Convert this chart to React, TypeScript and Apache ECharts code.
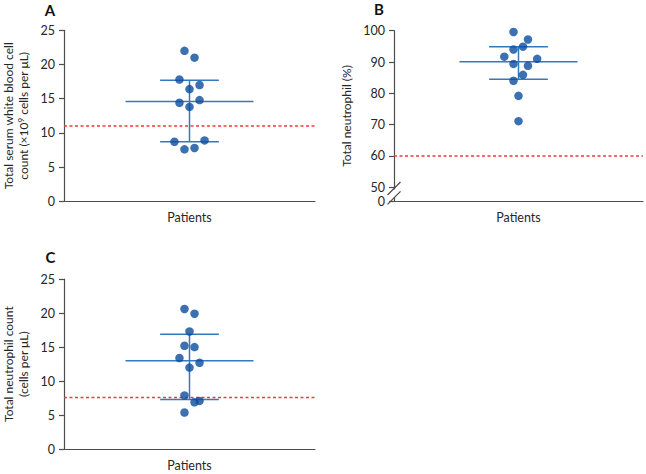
import React, { useEffect, useRef } from 'react';
import * as echarts from 'echarts';

// ---------- data ----------
const panelLetters = ['A', 'B', 'C'];
const xCategory = 'Patients';

// Panel A: total serum white blood cell count
const wbcValues = [22.0, 21.0, 17.8, 17.0, 16.4, 14.4, 14.8, 13.8, 8.7, 8.9, 7.6, 7.8];
const wbcJitter = [-2, 2, -4, 4, 0, -4, 4, 0, -6, 6, -2, 2];
const wbcMean = 14.6;
const wbcSd = [8.7, 17.7];
const wbcRef = 11;
const wbcTicks = [0, 5, 10, 15, 20, 25];

// Panel B: total neutrophil (%)
const pctValues = [99.6, 97.2, 94.0, 94.9, 91.7, 91.0, 89.4, 88.8, 85.9, 84.0, 79.2, 71.1];
const pctJitter = [-2, 3.8, -2, 1.8, -5.7, 7.5, -2, 3.8, 1.8, -2, 0, 0];
const pctMean = 90.1;
const pctSd = [84.5, 94.9];
const pctRef = 60;
const pctTicks = [0, 50, 60, 70, 80, 90, 100];
const pctBrokenZero = 45.5; // where "0" sits below the axis break

// Panel C: total neutrophil count
const cntValues = [20.6, 19.9, 17.3, 15.2, 15.0, 13.4, 12.7, 12.0, 7.9, 6.9, 7.1, 5.4];
const cntJitter = [-2, 2, 0, -2, 2, -4, 4, 0, -2, 2, 4, -2];
const cntMean = 13.0;
const cntSd = [7.3, 16.9];
const cntRef = 7.6;
const cntTicks = [0, 5, 10, 15, 20, 25];

// ---------- styles ----------
const FONT = 'Lato, "Open Sans", sans-serif';
const DOT = '#0a4c9e';
const BAR = '#3478bd';
const RED = '#f23a3a';
const AXIS = '#4d4d4d';
const TEXT = '#262626';

export default function App() {
  const ref = useRef<HTMLDivElement>(null);

  useEffect(() => {
    if (!ref.current) return;
    const chart = echarts.init(ref.current, undefined, { renderer: 'svg' });

    const grids = [
      { left: 64, top: 30.3, width: 251, height: 171 },
      { left: 394, top: 30.7, width: 249, height: 170.6 },
      { left: 64, top: 279, width: 251, height: 170.3 },
    ];

    const panels = [
      { values: wbcValues, jitter: wbcJitter, mean: wbcMean, sd: wbcSd, ref: wbcRef, mh: 25.5, ch: 11.7 },
      { values: pctValues, jitter: pctJitter, mean: pctMean, sd: pctSd, ref: pctRef, mh: 23.7, ch: 11.8 },
      { values: cntValues, jitter: cntJitter, mean: cntMean, sd: cntSd, ref: cntRef, mh: 25.5, ch: 11.7 },
    ];

    const xAxes = grids.map((_, i) => ({
      type: 'value',
      gridIndex: i,
      min: -50,
      max: 50,
      axisLabel: { show: false },
      axisTick: { show: false },
      splitLine: { show: false },
      axisLine: { show: true, onZero: false, lineStyle: { color: AXIS, width: 1.2 } },
      name: xCategory,
      nameLocation: 'middle',
      nameGap: 10,
      nameTextStyle: { fontFamily: FONT, fontSize: 12.5, color: TEXT },
    }));

    const baseY = {
      type: 'value',
      splitLine: { show: false },
      axisLine: { show: true, onZero: false, lineStyle: { color: AXIS, width: 1.2 } },
      axisTick: { show: true, length: 5, lineStyle: { color: AXIS, width: 1.2 } },
      axisLabel: { margin: 9, fontFamily: FONT, fontSize: 12.5, color: TEXT },
      nameLocation: 'middle',
      nameTextStyle: {
        fontFamily: FONT,
        fontSize: 12,
        color: TEXT,
        lineHeight: 15,
        rich: {
          sup: { fontFamily: FONT, fontSize: 8, color: TEXT, padding: [0, 0, 6, 0] },
        },
      },
    };

    const yAxes = [
      {
        ...baseY,
        gridIndex: 0,
        min: wbcTicks[0],
        max: wbcTicks[wbcTicks.length - 1],
        interval: 5,
        name: 'Total serum white blood cell\ncount (×10{sup|9} cells per μL)',
        nameGap: 33,
      },
      {
        ...baseY,
        gridIndex: 1,
        min: pctBrokenZero,
        max: pctTicks[pctTicks.length - 1],
        axisTick: {
          ...baseY.axisTick,
          customValues: [pctBrokenZero, ...pctTicks.slice(1)],
        },
        axisLabel: {
          ...baseY.axisLabel,
          customValues: [pctBrokenZero, ...pctTicks.slice(1)],
          formatter: (v: number) => (v < pctTicks[1] ? String(pctTicks[0]) : String(v)),
        },
        name: 'Total neutrophil (%)',
        nameGap: 40,
      },
      {
        ...baseY,
        gridIndex: 2,
        min: cntTicks[0],
        max: cntTicks[cntTicks.length - 1],
        interval: 5,
        name: 'Total neutrophil count\n(cells per μL)',
        nameGap: 33,
      },
    ];

    const series: any[] = [];
    panels.forEach((p, i) => {
      const lineBase = {
        type: 'line',
        xAxisIndex: i,
        yAxisIndex: i,
        symbol: 'none',
        silent: true,
        lineStyle: { color: BAR, width: 1.5 },
        z: 3,
      };
      series.push({
        ...lineBase,
        data: [[-50, p.ref], [50, p.ref]],
        lineStyle: { color: RED, width: 1.5, type: [3, 2.5] },
        z: 2,
      });
      series.push({ ...lineBase, data: [[-p.mh, p.mean], [p.mh, p.mean]] });
      series.push({ ...lineBase, data: [[-p.ch, p.sd[0]], [p.ch, p.sd[0]]] });
      series.push({ ...lineBase, data: [[-p.ch, p.sd[1]], [p.ch, p.sd[1]]] });
      series.push({ ...lineBase, data: [[0, p.sd[0]], [0, p.sd[1]]] });
      series.push({
        type: 'scatter',
        xAxisIndex: i,
        yAxisIndex: i,
        symbol: 'circle',
        symbolSize: 8.5,
        itemStyle: { color: DOT },
        data: p.values.map((v, k) => [p.jitter[k], v]),
        z: 5,
      });
    });

    chart.setOption({
      animation: false,
      backgroundColor: '#ffffff',
      grid: grids,
      xAxis: xAxes,
      yAxis: yAxes,
      series,
    });

    // panel letters and axis break marks
    const letterPos = [
      [50, 10],
      [379, 9],
      [50.5, 257],
    ];
    const graphics: any[] = panelLetters.map((t, i) => ({
      type: 'text',
      x: letterPos[i][0],
      y: letterPos[i][1],
      style: {
        text: t,
        fontFamily: FONT,
        fontSize: 15,
        fontWeight: 'bold',
        fill: '#111111',
        align: 'center',
        verticalAlign: 'middle',
      },
    }));

    const top = chart.convertToPixel({ gridIndex: 1 } as any, [-50, 49.6]) as number[];
    const bot = chart.convertToPixel({ gridIndex: 1 } as any, [-50, 46.6]) as number[];
    graphics.push({
      type: 'rect',
      shape: { x: top[0] - 2, y: top[1] + 1, width: 4, height: bot[1] - top[1] - 2 },
      style: { fill: '#ffffff' },
      z: 100,
    });
    [top, bot].forEach((c) => {
      graphics.push({
        type: 'line',
        shape: { x1: c[0] - 6.5, y1: c[1] + 6.5, x2: c[0] + 6.5, y2: c[1] - 6.5 },
        style: { stroke: AXIS, lineWidth: 1.3 },
        z: 101,
      });
    });

    chart.setOption({ graphic: graphics });

    return () => chart.dispose();
  }, []);

  return (
    <div
      ref={ref}
      style={{ position: 'fixed', left: 0, top: 0, width: 646, height: 474, background: '#fff' }}
    />
  );
}
